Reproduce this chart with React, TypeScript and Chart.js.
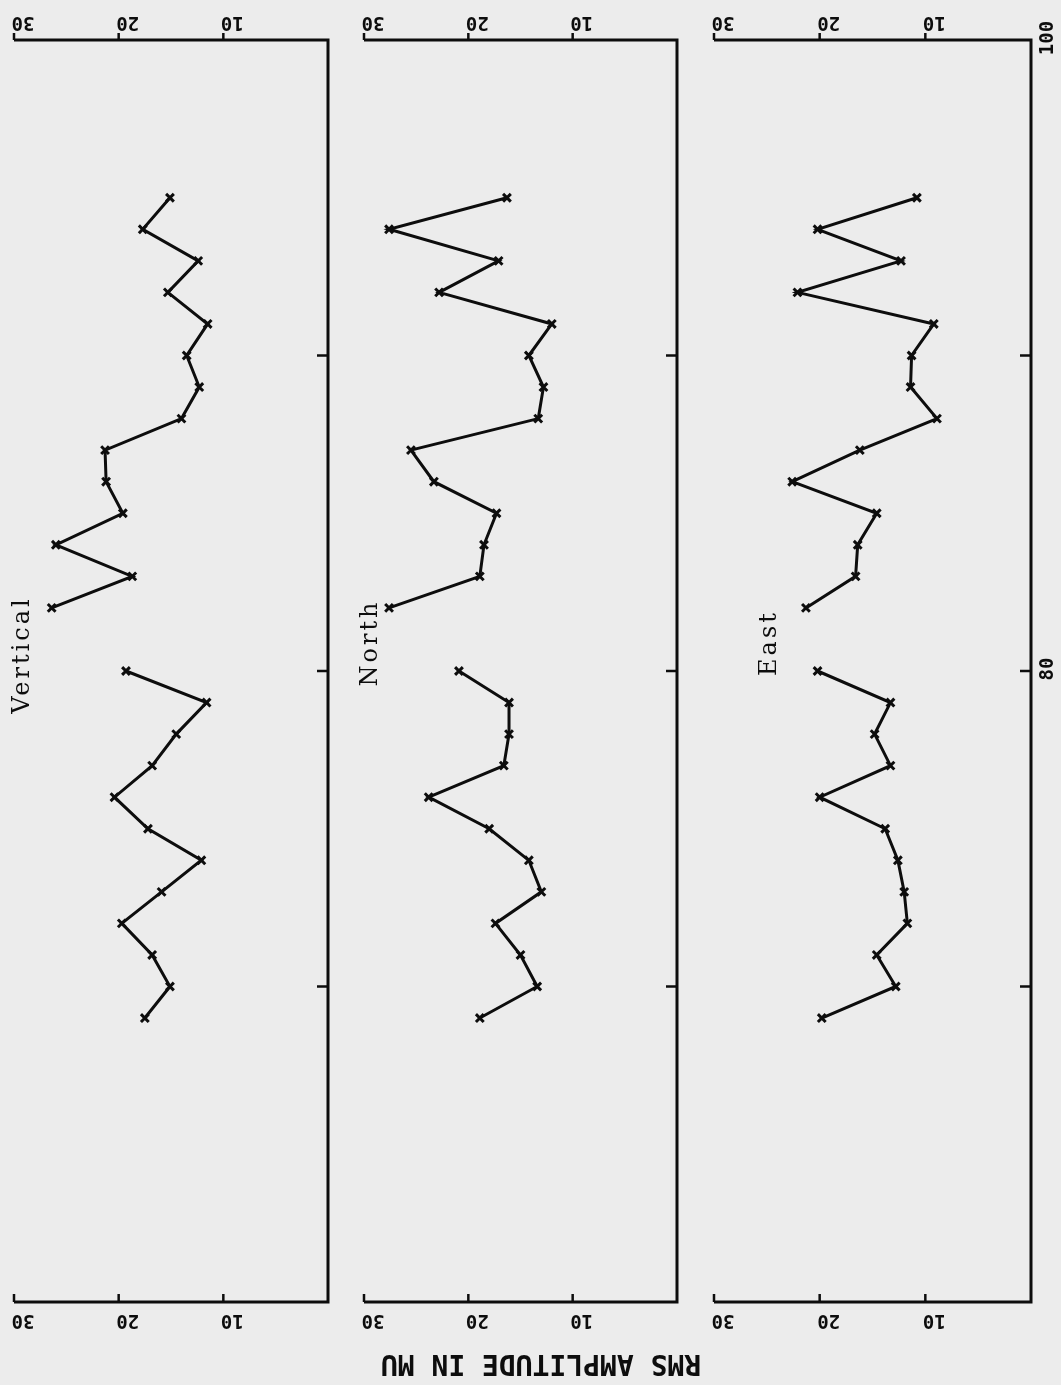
import React, { useEffect, useRef } from "react";
import { Chart, registerables } from "chart.js";

Chart.register(...registerables);

const W = 1061;
const H = 1385;
const INK = "#0d0d0d";
const PAPER = "#ececec";

// distance (vertical axis of the picture)
const upperDistance = [95, 94, 93, 92, 91, 90, 89, 88, 87, 86, 85, 84, 83, 82];
const lowerDistance = [80, 79, 78, 77, 76, 75, 74, 73, 72, 71, 70, 69];

// RMS amplitude in mu
const verticalUpper = [15.1, 17.7, 12.4, 15.3, 11.5, 13.5, 12.3, 14.0, 21.3, 21.2, 19.6, 26.0, 18.7, 26.4];
const verticalLower = [19.3, 11.6, 14.5, 16.8, 20.4, 17.2, 12.1, 15.9, 19.7, 16.8, 15.1, 17.5];
const northUpper = [16.3, 27.6, 17.1, 22.8, 12.0, 14.2, 12.8, 13.3, 25.5, 23.3, 17.3, 18.5, 18.9, 27.6];
const northLower = [20.9, 16.1, 16.1, 16.6, 23.8, 18.0, 14.2, 13.0, 17.4, 15.0, 13.4, 18.9];
const eastUpper = [10.8, 20.2, 12.3, 22.1, 9.2, 11.3, 11.4, 8.9, 16.2, 22.6, 14.6, 16.4, 16.6, 21.3];
const eastLower = [20.2, 13.3, 14.8, 13.3, 20.0, 13.8, 12.6, 12.0, 11.7, 14.6, 12.8, 19.8];

// ticks
const amplitudeTicks = [30, 20, 10];
const amplitudeTickLabels = ["30", "20", "10"];
const distanceTicks = [90, 80, 70];
const distanceLabelValues = [100, 80];
const distanceLabelTexts = ["100", "80"];

const axisTitle = "RMS AMPLITUDE IN MU";

function drawRotated(ctx: CanvasRenderingContext2D, text: string, x: number, y: number, angle: number) {
  ctx.save();
  ctx.translate(x, y);
  ctx.rotate(angle);
  ctx.fillText(text, 0, 0);
  ctx.restore();
}

const framePlugin = {
  id: "frame",
  afterDraw(chart: any, _args: any, opts: any) {
    const { ctx, chartArea: a, scales } = chart;
    const xs = scales.x;
    const ys = scales.y;
    ctx.save();
    ctx.strokeStyle = INK;
    ctx.lineWidth = 3;
    ctx.lineJoin = "miter";
    ctx.beginPath();
    ctx.moveTo(a.left, a.top);
    ctx.lineTo(a.right, a.top);
    ctx.lineTo(a.right, a.bottom);
    ctx.lineTo(a.left, a.bottom);
    ctx.stroke();

    ctx.lineWidth = 2.5;
    for (const v of amplitudeTicks) {
      const px = xs.getPixelForValue(v);
      ctx.beginPath();
      ctx.moveTo(px, a.top);
      ctx.lineTo(px, a.top - 7);
      ctx.stroke();
      ctx.beginPath();
      ctx.moveTo(px, a.bottom);
      ctx.lineTo(px, a.bottom - 8);
      ctx.stroke();
    }
    for (const v of distanceTicks) {
      const py = ys.getPixelForValue(v);
      ctx.beginPath();
      ctx.moveTo(a.right, py);
      ctx.lineTo(a.right - 11, py);
      ctx.stroke();
    }

    ctx.fillStyle = INK;
    ctx.textAlign = "center";
    ctx.textBaseline = "middle";
    ctx.font = "bold 19px 'DejaVu Sans Mono'";
    amplitudeTicks.forEach((v, i) => {
      const px = xs.getPixelForValue(v) + 9;
      drawRotated(ctx, amplitudeTickLabels[i], px, a.top - 18, Math.PI);
      drawRotated(ctx, amplitudeTickLabels[i], px, a.bottom + 18, Math.PI);
    });

    if (opts.distanceLabels) {
      distanceLabelValues.forEach((v, i) => {
        const py = ys.getPixelForValue(v) - 2;
        drawRotated(ctx, distanceLabelTexts[i], a.right + 17, py, -Math.PI / 2);
      });
    }

    if (opts.axisTitle) {
      ctx.font = "bold 28px 'DejaVu Sans Mono'";
      drawRotated(ctx, axisTitle, opts.titleX, opts.titleY, Math.PI);
    }

    if (opts.panelLabel) {
      ctx.font = "24px 'DejaVu Serif'";
      (ctx as any).letterSpacing = "3px";
      drawRotated(ctx, opts.panelLabel, opts.labelX, opts.labelY, -Math.PI / 2);
      (ctx as any).letterSpacing = "0px";
    }
    ctx.restore();
  },
};

type PanelDef = {
  left: number;
  right: number;
  upper: number[];
  lower: number[];
  label: string;
  labelX: number;
  labelY: number;
  distanceLabels?: boolean;
  axisTitle?: boolean;
};

const panels: PanelDef[] = [
  { left: 14, right: 328, upper: verticalUpper, lower: verticalLower, label: "Vertical", labelX: 23, labelY: 655 },
  { left: 364, right: 677, upper: northUpper, lower: northLower, label: "North", labelX: 371, labelY: 643, axisTitle: true },
  { left: 714, right: 1031, upper: eastUpper, lower: eastLower, label: "East", labelX: 770, labelY: 643, distanceLabels: true },
];

function lineDataset(xs: number[], ds: number[]) {
  return {
    data: ds.map((d, i) => ({ x: xs[i], y: d })),
    showLine: true,
    borderColor: INK,
    borderWidth: 3,
    pointStyle: "crossRot",
    pointRadius: 5.5,
    pointBorderWidth: 3,
    pointBorderColor: INK,
    pointBackgroundColor: INK,
    tension: 0,
  };
}

export default function App() {
  const refs = [useRef<HTMLCanvasElement>(null), useRef<HTMLCanvasElement>(null), useRef<HTMLCanvasElement>(null)];

  useEffect(() => {
    document.body.style.margin = "0";
    document.body.style.background = PAPER;
    const charts = panels.map((p, i) => {
      const canvas = refs[i].current!;
      return new Chart(canvas, {
        type: "scatter",
        data: {
          datasets: [lineDataset(p.upper, upperDistance), lineDataset(p.lower, lowerDistance)] as any,
        },
        options: {
          responsive: false,
          animation: false,
          devicePixelRatio: 1,
          events: [],
          layout: { padding: { left: p.left, right: W - p.right, top: 40, bottom: H - 1302 } },
          plugins: {
            legend: { display: false },
            tooltip: { enabled: false },
            frame: {
              panelLabel: p.label,
              labelX: p.labelX,
              labelY: p.labelY,
              distanceLabels: !!p.distanceLabels,
              axisTitle: !!p.axisTitle,
              titleX: 541,
              titleY: 1362,
            },
          } as any,
          scales: {
            x: { type: "linear", display: false, min: 0, max: 30, reverse: true },
            y: { type: "linear", display: false, min: 60, max: 100 },
          },
        },
        plugins: [framePlugin],
      });
    });
    return () => charts.forEach((c) => c.destroy());
  }, []);

  return (
    <div style={{ position: "relative", width: W, height: H, background: PAPER, overflow: "hidden" }}>
      {refs.map((r, i) => (
        <canvas
          key={i}
          ref={r}
          width={W}
          height={H}
          style={{ position: "absolute", left: 0, top: 0, width: W, height: H }}
        />
      ))}
    </div>
  );
}
